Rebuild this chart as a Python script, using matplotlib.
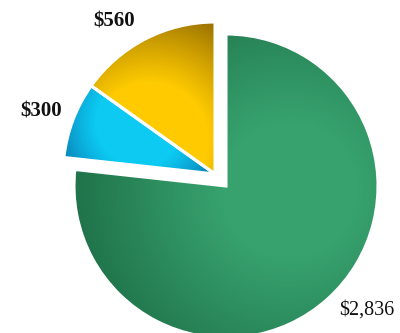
import numpy as np
import matplotlib
matplotlib.use("Agg")
import matplotlib.pyplot as plt
from matplotlib.colors import LinearSegmentedColormap

# slice values, clockwise from 12 o'clock
labels = ["$2,836", "$300", "$560"]
values = [2836, 300, 560]
light = ["#37a26e", "#0ccaf2", "#ffcb00"]
dark = ["#1e6f47", "#0a6ea8", "#8a6300"]

W, H = 400, 333
CX, CY, R = 226, 186, 152  # pie centre and radius in pixels


def to_data(px, py):
    return (px - CX) / R, (CY - py) / R


fig = plt.figure(figsize=(W / 100, H / 100), dpi=100)
ax = fig.add_axes([0, 0, 1, 1])
x0, y1 = to_data(0, 0)
x1, y0 = to_data(W, H)

wedges, _ = ax.pie(values, startangle=90, counterclock=False, radius=1,
                   wedgeprops=dict(edgecolor="white", linewidth=2.2))

# the two small slices are pulled out together
shift = to_data(CX - 11, CY - 12)
for w in wedges[1:]:
    w.set_center(shift)

# shading for each slice: (highlight point in px, spread in data units, gamma)
shade = [((290, 190), 1.5, 1.0), ((140, 122), 0.62, 1.6), ((150, 140), 0.95, 1.3)]
gx, gy = np.meshgrid(np.linspace(x0, x1, W), np.linspace(y1, y0, H))
for w, lc, dc, (hp, spread, g) in zip(wedges, light, dark, shade):
    hx, hy = to_data(*hp)
    t = np.clip(np.hypot(gx - hx, gy - hy) / spread, 0, 1) ** g
    cmap = LinearSegmentedColormap.from_list("s", [(0, lc), (0.3, lc), (1, dc)])
    im = ax.imshow(t, cmap=cmap, vmin=0, vmax=1,
                   extent=(x0, x1, y0, y1), zorder=w.get_zorder() + 0.5,
                   interpolation="bilinear")
    im.set_clip_path(w)

# white gap lines on top of the shading
for w in wedges:
    w.set_zorder(5)
    w.set_facecolor("none")

ax.set_xlim(x0, x1)
ax.set_ylim(y0, y1)
ax.axis("off")

label_px = [(367, 310), (41, 112), (114, 22)]
weights = ["normal", "bold", "bold"]
sizes = [14.5, 15, 15]
for lab, (px, py), fw, fs in zip(labels, label_px, weights, sizes):
    tx, ty = to_data(px, py)
    ax.text(tx, ty, lab, ha="center", va="center", fontsize=fs,
            family="Liberation Serif", fontweight=fw, color="#111111")

fig.savefig("out.png", dpi=100)
